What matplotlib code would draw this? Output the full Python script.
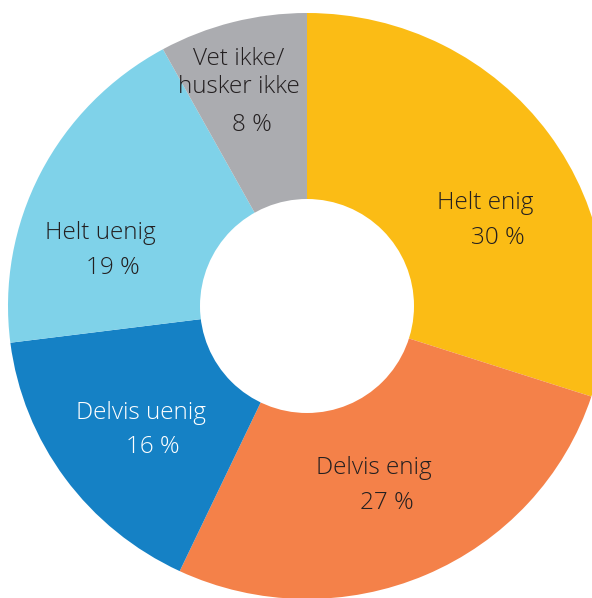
import matplotlib
matplotlib.use("Agg")
import matplotlib.pyplot as plt
from matplotlib.patches import Ellipse

# data
categories = ["Helt enig", "Delvis enig", "Delvis uenig", "Helt uenig", "Vet ikke/\nhusker ikke"]
shares = [30, 27, 16, 19, 8]
colors = ["#FBBC15", "#F48149", "#1581C5", "#7FD2E9", "#ABACB0"]
text_colors = ["#231F20", "#231F20", "#FFFFFF", "#231F20", "#231F20"]

# label anchors in pixel coords (name line, percent line)
name_pos = [(485, 203), (374, 468), (141, 413), (100, 233), (239, 73)]
pct_pos = [(498, 238), (387, 503), (153, 447), (113, 268), (252, 125)]

W, H = 592, 598
CX, CY = 307, 306     # pie centre in pixels
RX, RY = 299, 293     # outer radius, slightly squashed like the original
HOLE = 107

plt.rcParams['font.family'] = ['Open Sans', 'DejaVu Sans']

fig = plt.figure(figsize=(W / 100, H / 100), dpi=100)
ax = fig.add_axes([0, 0, 1, 1])
ax.axis('off')

ax.pie(shares, colors=colors, startangle=90, counterclock=False,
       radius=1, wedgeprops=dict(linewidth=0))
ax.add_patch(Ellipse((0, 0), 2 * HOLE / RX, 2 * HOLE / RY,
                     facecolor='white', edgecolor='none', zorder=3))

ax.set_xlim(-CX / RX, (W - CX) / RX)
ax.set_ylim((CY - H) / RY, CY / RY)
ax.set_aspect('auto')


def to_data(px, py):
    return (px - CX) / RX, (CY - py) / RY


for i, name in enumerate(categories):
    x, y = to_data(*name_pos[i])
    ax.text(x, y, name, ha='center', va='center', fontsize=17.5,
            fontweight='light', color=text_colors[i], linespacing=1.2,
            zorder=4)
    x, y = to_data(*pct_pos[i])
    ax.text(x, y, f"{shares[i]} %", ha='center', va='center', fontsize=17.5,
            fontweight='light', color=text_colors[i], zorder=4)

fig.savefig("out.png", dpi=100)
